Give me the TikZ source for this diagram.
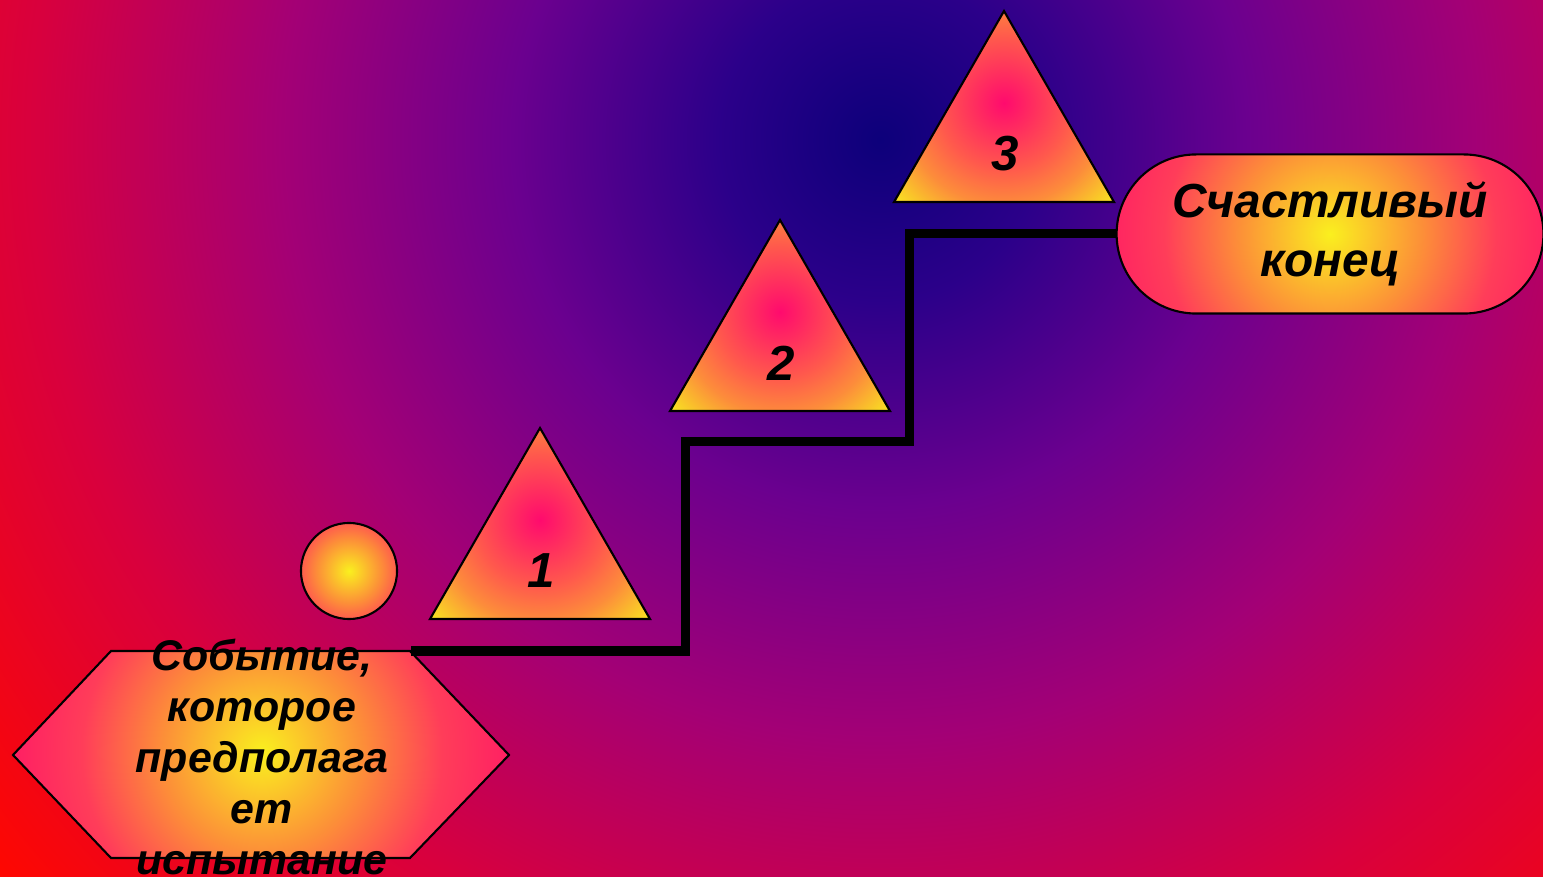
\documentclass[tikz,border=0pt]{standalone}
\usepackage{fontspec}
\setmainfont{Liberation Sans}
\usetikzlibrary{shapes.misc}

% shadings
\pgfdeclareradialshading{bgglow}{\pgfpoint{0bp}{0bp}}{rgb(0bp)=(0.05,0,0.48); rgb(3.5bp)=(0.17,0,0.54); rgb(8bp)=(0.42,0,0.56); rgb(13bp)=(0.64,0,0.46); rgb(18.5bp)=(0.85,0,0.24); rgb(25bp)=(1,0.03,0); rgb(50bp)=(1,0.03,0)}
\pgfdeclareradialshading{glow}{\pgfpoint{0bp}{0bp}}{rgb(0bp)=(0.98,0.94,0.12); rgb(10bp)=(0.99,0.56,0.22); rgb(18bp)=(1,0.24,0.35); rgb(25bp)=(1,0.12,0.39); rgb(50bp)=(1,0.12,0.39)}
\pgfdeclareradialshading{triglow}{\pgfpoint{0bp}{0bp}}{rgb(0bp)=(1,0.04,0.43); rgb(11bp)=(1,0.35,0.3); rgb(17bp)=(0.99,0.55,0.23); rgb(25bp)=(0.97,0.92,0.12); rgb(50bp)=(0.97,0.92,0.12)}

\begin{document}
\begin{tikzpicture}
	[
	x=0.01cm, y=-0.01cm,
	outline/.style={draw=black, line width=0.6pt},
	stair/.style={draw=black, line width=0.09cm, line join=miter},
	eventtext/.style={align=center, font={\bfseries\itshape\fontsize{12.2}{14.5}\selectfont}},
	endtext/.style={align=center, font={\bfseries\itshape\fontsize{13.6}{16.6}\selectfont}},
	stepnum/.style={font={\bfseries\itshape\fontsize{14}{16}\selectfont}}
	]
		% background
		\useasboundingbox (0,0) rectangle (1543,877);
		\begin{scope}
			\clip (0,0) rectangle (1543,877);
			\shade [shading=bgglow] (880,140) circle (1150);
		\end{scope}
		
		% start event
		\begin{scope}
			\clip (13,755) -- (111,651) -- (410,651) -- (509,755) -- (410,858) -- (111,858) -- cycle;
			\shade [shading=glow] (262,752) circle (250);
		\end{scope}
		\draw [outline] (13,755) -- (111,651) -- (410,651) -- (509,755) -- (410,858) -- (111,858) -- cycle;
		\coordinate (eventne) at (411,651);
		\node (event) [eventtext] at (262,757) {Событие,\\которое\\предполага\\ет\\испытание};
		
		% sun
		\node (sun) [circle, outline, inner sep=0pt, minimum size=0.96cm,
			path picture={\shade [shading=glow] (path picture bounding box.center) circle (80);}] at (349,571) {};
		
		% steps
		\foreach \n/\x/\y in {1/540/428, 2/780/220, 3/1004/11}
		{
			\begin{scope}
				\clip (\x,\y) -- (\x+110,\y+191) -- (\x-110,\y+191) -- cycle;
				\shade [shading=triglow] (\x,\y+92) circle (150);
			\end{scope}
			\draw [outline] (\x,\y) -- (\x+110,\y+191) -- (\x-110,\y+191) -- cycle;
			\node (s\n) [stepnum] at (\x+1,\y+143) {\n};
		}
		
		% happy end
		\node (end) [rounded rectangle, outline, minimum width=4.5cm, minimum height=1.59cm, endtext,
			path picture={\shade [shading=glow] (path picture bounding box.center) circle (230);}] at (1330,234) {Счастливый\\конец};
		
		% drawing code
		\draw [stair] (eventne) -| (685,442) -| (909,234) -- (end.west);
	\end{tikzpicture}
\end{document}
